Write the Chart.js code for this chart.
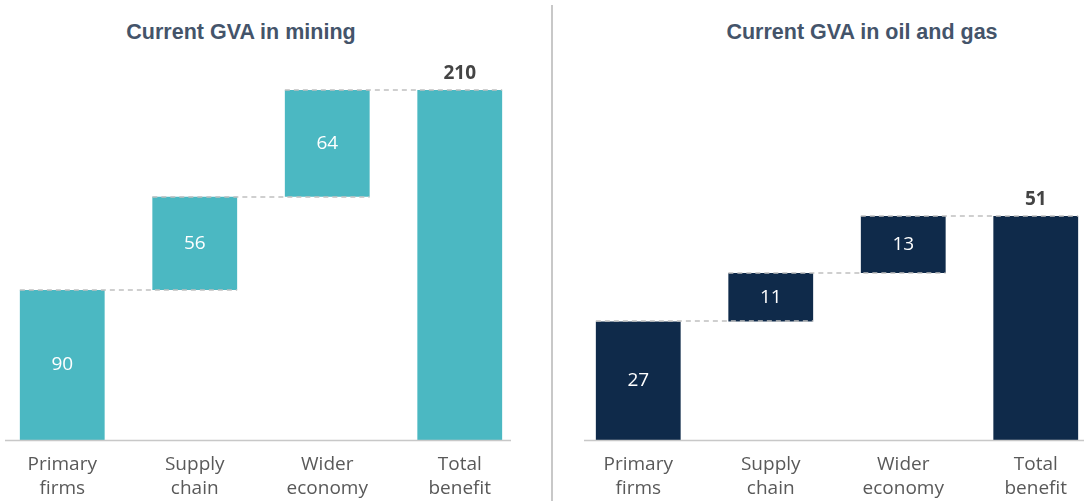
<!DOCTYPE html>
<html lang="en">
<head>
<meta charset="UTF-8">
<title>Current GVA</title>
<script src="https://cdn.jsdelivr.net/npm/chart.js"></script>
<style>
  body {
    margin: 0;
    width: 1084px;
    height: 501px;
    overflow: hidden;
    position: relative;
    background: #fff;
  }
  .title {
    position: absolute;
    top: 20px;
    transform: translateX(-50%);
    white-space: nowrap;
    font-family: "Liberation Sans", Arial, sans-serif;
    font-weight: bold;
    font-size: 21.5px;
    color: #44546a;
  }
  #divider {
    position: absolute;
    left: 551px;
    top: 5px;
    width: 2px;
    height: 496px;
    background: #c8c8c8;
  }
  canvas { position: absolute; top: 0; }
</style>
</head>
<body>
  <div class="title" style="left:241px">Current GVA in mining</div>
  <div class="title" style="left:862px">Current GVA in oil and gas</div>
  <div id="divider"></div>
  <canvas id="miningChart" width="530" height="508" style="left:-4px"></canvas>
  <canvas id="oilGasChart" width="530" height="508" style="left:572px"></canvas>

<script>
const categories = [['Primary', 'firms'], ['Supply', 'chain'], ['Wider', 'economy'], ['Total', 'benefit']];
const miningSteps = [90, 56, 64];
const miningTotal = 210;
const oilGasSteps = [27, 11, 13];
const oilGasTotal = 51;

// turn steps + total into floating [from, to] bars
function waterfall(steps, total) {
  const out = [];
  let run = 0;
  steps.forEach(v => { out.push([run, run + v]); run += v; });
  out.push([0, total]);
  return out;
}

const FONT = '"Open Sans", "Noto Sans", sans-serif';

const waterfallPlugin = {
  id: 'waterfallDecor',
  afterDatasetsDraw(chart, args, opts) {
    const ctx = chart.ctx;
    const bars = chart.getDatasetMeta(0).data;
    const ranges = chart.data.datasets[0].data;
    const y = chart.scales.y;
    ctx.save();

    // dashed connectors
    ctx.strokeStyle = '#c0c0c0';
    ctx.lineWidth = 1.5;
    ctx.setLineDash([5, 4]);
    for (let i = 0; i < bars.length - 1; i++) {
      const a = bars[i], b = bars[i + 1];
      const yy = Math.round(y.getPixelForValue(ranges[i][1]));
      ctx.beginPath();
      ctx.moveTo(a.x - a.width / 2, yy);
      ctx.lineTo(b.x + b.width / 2, yy);
      ctx.stroke();
    }

    // baseline
    ctx.setLineDash([]);
    ctx.strokeStyle = '#c8c8c8';
    ctx.lineWidth = 1.5;
    const y0 = Math.round(y.getPixelForValue(0)) + 0.5;
    ctx.beginPath();
    ctx.moveTo(chart.chartArea.left + opts.axisStart, y0);
    ctx.lineTo(chart.chartArea.left + opts.axisEnd, y0);
    ctx.stroke();

    // value labels
    ctx.textAlign = 'center';
    ctx.textBaseline = 'middle';
    bars.forEach((bar, i) => {
      const r = ranges[i];
      const val = r[1] - r[0];
      if (i === bars.length - 1) {
        ctx.font = 'bold 19px ' + FONT;
        ctx.fillStyle = '#444';
        ctx.fillText(val, bar.x, bar.y - 16);
      } else {
        ctx.font = '19px ' + FONT;
        ctx.fillStyle = '#fff';
        ctx.fillText(val, bar.x, (bar.y + bar.base) / 2);
      }
    });
    ctx.restore();
  }
};

function makeChart(id, steps, total, color, yMax, axisStart, axisEnd) {
  return new Chart(document.getElementById(id), {
    type: 'bar',
    data: {
      labels: categories,
      datasets: [{
        data: waterfall(steps, total),
        backgroundColor: color,
        borderWidth: 0,
        barPercentage: 0.64,
        categoryPercentage: 1
      }]
    },
    options: {
      responsive: false,
      animation: false,
      layout: { padding: { top: 60, bottom: 2, left: 0, right: 0 } },
      plugins: {
        legend: { display: false },
        tooltip: { enabled: false },
        waterfallDecor: { axisStart: axisStart, axisEnd: axisEnd }
      },
      scales: {
        x: {
          grid: { display: false },
          border: { display: false },
          ticks: {
            padding: 5,
            color: '#595959',
            font: { family: FONT, size: 19, lineHeight: 1.263 },
            maxRotation: 0
          }
        },
        y: { display: false, min: 0, max: yMax }
      }
    },
    plugins: [waterfallPlugin]
  });
}

makeChart('miningChart', miningSteps, miningTotal, '#4bb8c2', 228, 9, 515);
makeChart('oilGasChart', oilGasSteps, oilGasTotal, '#0f2a4a', 86.5, 12, 530);
</script>
</body>
</html>
